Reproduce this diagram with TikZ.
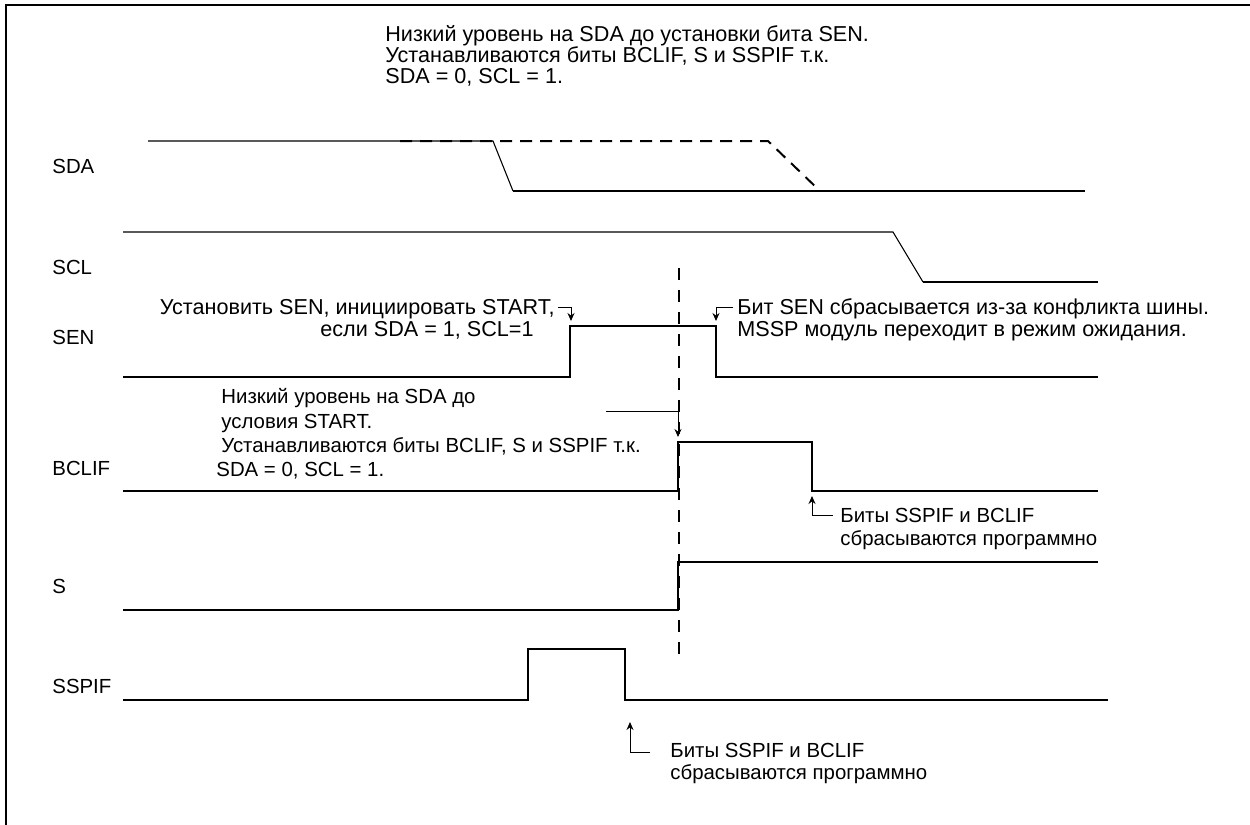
\documentclass[tikz,border=0pt]{standalone}
\usepackage{fontspec}
\setmainfont{Liberation Sans}
\usetikzlibrary{arrows.meta}
\begin{document}
\begin{tikzpicture}[x=0.5pt,y=-0.5pt,
  wave/.style={line width=1pt, line join=miter},
  thinwave/.style={line width=0.55pt},
  frame/.style={line width=1.2pt},
  txt/.style={font=\fontsize{10.2}{10}\selectfont, inner sep=0pt},
  bigtxt/.style={font=\fontsize{10.8}{10}\selectfont, inner sep=0pt},
  pointer/.style={line width=0.5pt, -{Stealth[length=4pt,width=3.5pt]}},
  marker/.style={line width=0.8pt, dash pattern=on 6pt off 5pt},
  altpath/.style={line width=1pt, dash pattern=on 6pt off 4pt}
]
\useasboundingbox (0,0) rectangle (1250,825);

% page frame
\draw[frame] (6,825) -- (6,5) -- (1250,5);

% caption block
\node[bigtxt, anchor=base west] (top1) at (385,41) {Низкий уровень на SDA до установки бита SEN.};
\node[bigtxt, anchor=base west] (top2) at (385,62) {Устанавливаются биты BCLIF, S и SSPIF т.к.};
\node[bigtxt, anchor=base west] (top3) at (385,83) {SDA = 0, SCL = 1.};

% signal names
\node[txt, anchor=base west] (nSDA)   at (52,173) {SDA};
\node[txt, anchor=base west] (nSCL)   at (52,274) {SCL};
\node[txt, anchor=base west] (nSEN)   at (52,344) {SEN};
\node[txt, anchor=base west] (nBCLIF) at (52,475) {BCLIF};
\node[txt, anchor=base west] (nS)     at (52,593) {S};
\node[txt, anchor=base west] (nSSPIF) at (52,693) {SSPIF};

% SDA
\draw[thinwave] (148,141) -- (493,141) -- (513,191);
\draw[wave] (513,191) -- (1085,191);
\draw[altpath] (400,141) -- (768,141) -- (820,191);

% SCL
\draw[thinwave] (123,232) -- (893,232) -- (923,282);
\draw[wave] (923,282) -- (1098,282);

% start marker
\coordinate (mtop) at (679,268);
\coordinate (mbot) at (679,655);
\draw[marker] (mtop) -- (mbot);

% SEN
\draw[wave] (123,377) -- (570,377) -- (570,326) -- (716,326) -- (716,377) -- (1098,377);

% BCLIF
\draw[wave] (123,491) -- (678,491) -- (678,442) -- (812,442) -- (812,491) -- (1098,491);

% S
\draw[wave] (123,610) -- (678,610) -- (678,562) -- (1098,562);

% SSPIF
\draw[wave] (123,700) -- (528,700) -- (528,649) -- (625,649) -- (625,700) -- (1108,700);

% SEN set note
\node[bigtxt, anchor=base east] (senA) at (555,314) {Установить SEN, инициировать START,};
\node[bigtxt, anchor=base east] (senB) at (534,336) {если SDA = 1, SCL=1};
\coordinate (senAc) at (571,307);
\coordinate (senAt) at (571,321);
\draw[pointer] (senA.east |- senAc) ++(3,0) -- (senAc) -- (senAt);

% SEN cleared note
\node[bigtxt, anchor=base west] (senC) at (737,314) {Бит SEN сбрасывается из-за конфликта шины.};
\node[bigtxt, anchor=base west] (senD) at (737,336) {MSSP модуль переходит в режим ожидания.};
\coordinate (senCc) at (716,307);
\coordinate (senCt) at (716,321);
\draw[pointer] (senC.west |- senCc) ++(-4,0) -- (senCc) -- (senCt);

% bus collision note
\node[txt, anchor=base west] (bcA) at (221,403) {Низкий уровень на SDA до};
\node[txt, anchor=base west] (bcB) at (221,428) {условия START.};
\node[txt, anchor=base west] (bcC) at (221,452) {Устанавливаются биты BCLIF, S и SSPIF т.к.};
\node[txt, anchor=base west] (bcD) at (216,476) {SDA = 0, SCL = 1.};
\coordinate (bcS) at (606,411);
\coordinate (bcC1) at (678,411);
\coordinate (bcT) at (678,437);
\draw[pointer] (bcS) -- (bcC1) -- (bcT);

% flags cleared note (BCLIF)
\node[txt, anchor=base west] (clA) at (840,522) {Биты SSPIF и BCLIF};
\node[txt, anchor=base west] (clB) at (840,545) {сбрасываются программно};
\coordinate (clC) at (812,515);
\coordinate (clT) at (812,496);
\draw[pointer] (clA.west |- clC) ++(-7,0) -- (clC) -- (clT);

% flags cleared note (SSPIF)
\node[txt, anchor=base west] (spA) at (670,757) {Биты SSPIF и BCLIF};
\node[txt, anchor=base west] (spB) at (670,779) {сбрасываются программно};
\coordinate (spC) at (630,752);
\coordinate (spT) at (630,722);
\draw[pointer] (spA.west |- spC) ++(-20,0) -- (spC) -- (spT);
\end{tikzpicture}
\end{document}
